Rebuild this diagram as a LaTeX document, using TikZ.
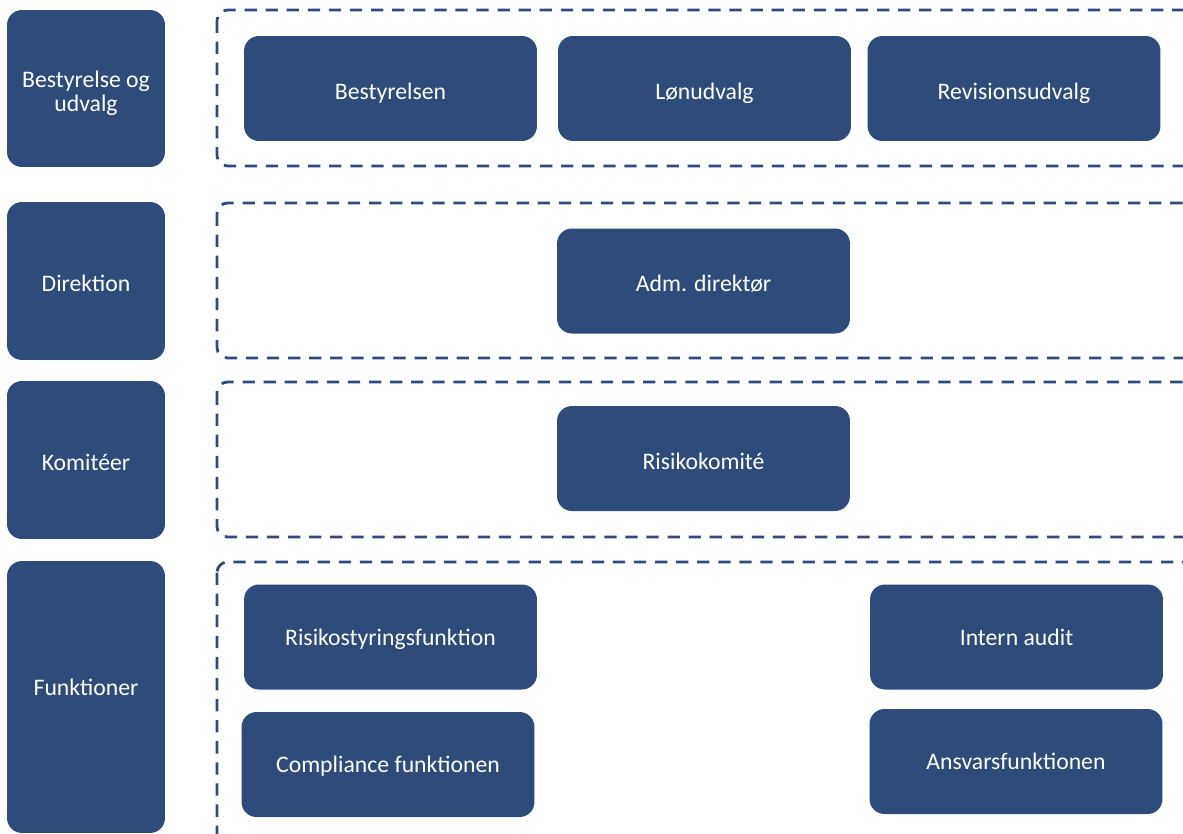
\documentclass[tikz,border=0pt]{standalone}
\usepackage{fontspec}
\setmainfont{Carlito}
\usepackage{tikz}
\usetikzlibrary{positioning}
\definecolor{boxblue}{HTML}{2E4B7C}

\begin{document}
\begin{tikzpicture}[x=0.02cm, y=-0.02cm,
    lvl/.style={rectangle, rounded corners=8.5pt, fill=boxblue, text=white, minimum width=3.16cm, align=center, text height=11.5pt, text depth=0pt, font=\fontsize{13.5}{13.5}\selectfont},
    unit/.style={rectangle, rounded corners=8.5pt, fill=boxblue, text=white, minimum width=5.86cm, minimum height=2.1cm, text height=12.1pt, text depth=0pt, font=\fontsize{13.5}{13.5}\selectfont},
    grp/.style={draw=boxblue, dash pattern=on 7pt off 5pt, line width=1.6pt, rounded corners=6pt}]
        \useasboundingbox (0,0) rectangle (1183,833);
        \clip (0,0) rectangle (1183,833);

        % Levels on the left
        \node[lvl, minimum height=3.14cm, text height=, text depth=] (bestyr) at (86,88.5) {\rule{0pt}{15pt}Bestyrelse og\\udvalg};
        \node[lvl, minimum height=3.16cm] (direk) at (86,281) {Direktion};
        \node[lvl, minimum height=3.16cm] (komit) at (86,460) {Komitéer};
        \node[lvl, minimum height=5.44cm, text height=8.7pt, text depth=10.2pt] (funkt) at (86,697) {Funktioner};

        % Dashed groups
        \draw[grp] (217,10) rectangle (1200,166);
        \draw[grp] (217,203) rectangle (1200,358);
        \draw[grp] (217,382) rectangle (1200,537);
        \draw[grp] (217,562) rectangle (1200,860);

        % Board and committees
        \node[unit] (bestyrelsen) at (390.5,88.5) {Bestyrelsen};
        \node[unit] (lon) at (704.5,88.5) {Lønudvalg};
        \node[unit] (revision) at (1014,88.5) {Revisionsudvalg};

        % Management
        \node[unit] (adm) at (703.5,281) {Adm. direktør};

        % Committees
        \node[unit] (risikokom) at (703.5,458.5) {Risikokomité};

        % Functions
        \node[unit, text height=9.5pt] (risikostyr) at (390.5,637) {Risikostyringsfunktion};
        \node[unit, text height=9.5pt] (compliance) at (388,764.5) {Compliance funktionen};
        \node[unit, text height=9.5pt] (audit) at (1016.5,637) {Intern audit};
        \node[unit, text height=8.7pt] (ansvar) at (1016,761.5) {Ansvarsfunktionen};
\end{tikzpicture}
\end{document}
